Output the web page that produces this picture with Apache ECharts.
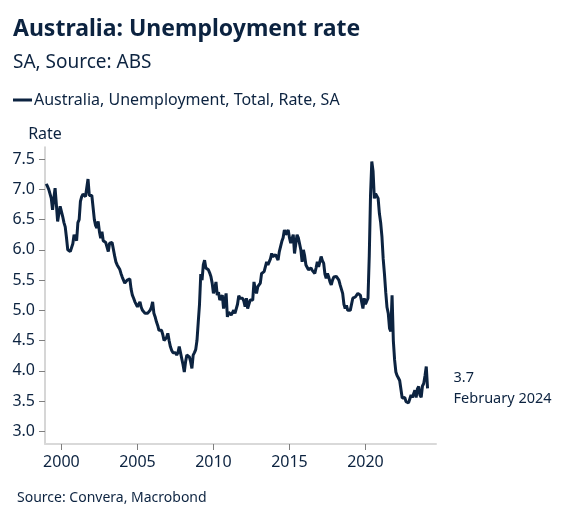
<!DOCTYPE html>
<html>
<head>
<meta charset="utf-8">
<script src="https://cdn.jsdelivr.net/npm/echarts@6/dist/echarts.min.js"></script>
<style>
  html, body { margin: 0; padding: 0; background: #fff; }
  #chart { width: 566px; height: 521px; }
</style>
</head>
<body>
<div id="chart"></div>
<script>
// 数据：月度失业率，从 1999 年 1 月开始
var startYear = 1999;
var rates = [
    7.09, 7.05, 7.0, 7.0, 6.85, 6.66, 6.85, 7.02, 6.75, 6.47, 6.6, 6.72,   // 1999
    6.74, 6.55, 6.45, 6.38, 6.2, 6.0, 5.97, 5.97, 5.97, 6.1, 6.25, 6.2,     // 2000
    6.15, 6.45, 6.5, 6.8, 6.88, 6.92, 6.9, 6.88, 6.9, 7.17, 6.9, 6.9,       // 2001
    6.9, 6.7, 6.5, 6.4, 6.36, 6.47, 6.3, 6.19, 6.3, 6.15, 6.15, 6.12,       // 2002
    6.1, 5.97, 6.11, 6.1, 6.12, 6.14, 5.9, 5.8, 5.75, 5.72, 5.68, 5.61,     // 2003
    5.55, 5.52, 5.45, 5.42, 5.5, 5.52, 5.52, 5.35, 5.25, 5.2, 5.14, 5.14,   // 2004
    5.06, 5.1, 5.14, 5.05, 5.0, 5.0, 4.95, 4.92, 4.95, 4.97, 5.0, 5.05,     // 2005
    5.14, 4.95, 4.89, 4.81, 4.75, 4.67, 4.7, 4.67, 4.6, 4.5, 4.48, 4.55,    // 2006
    4.62, 4.5, 4.4, 4.34, 4.3, 4.28, 4.3, 4.26, 4.3, 4.4, 4.3, 4.2,         // 2007
    4.1, 3.98, 4.15, 4.26, 4.25, 4.23, 4.15, 4.04, 4.26, 4.3, 4.35, 4.5,    // 2008
    4.8, 5.1, 5.6, 5.5, 5.75, 5.83, 5.7, 5.68, 5.67, 5.62, 5.56, 5.45,      // 2009
    5.28, 5.35, 5.47, 5.25, 5.3, 5.17, 5.2, 5.25, 5.03, 5.15, 5.28, 4.89,   // 2010
    4.97, 4.95, 4.92, 4.95, 5.0, 4.95, 4.92, 5.1, 5.24, 5.2, 5.2, 5.2,      // 2011
    5.15, 5.06, 5.2, 5.03, 5.1, 5.17, 5.15, 5.17, 5.47, 5.35, 5.28, 5.39,   // 2012
    5.39, 5.45, 5.61, 5.6, 5.64, 5.67, 5.8, 5.75, 5.75, 5.85, 5.94, 5.89,   // 2013
    5.89, 5.92, 5.9, 5.83, 5.97, 6.0, 6.14, 6.2, 6.33, 6.25, 6.22, 6.33,    // 2014
    6.2, 6.11, 6.18, 6.25, 5.94, 6.1, 6.25, 6.2, 6.17, 6.0, 5.8, 6.0,       // 2015
    5.9, 5.75, 5.72, 5.67, 5.7, 5.7, 5.66, 5.64, 5.61, 5.7, 5.8, 5.72,      // 2016
    5.8, 5.89, 5.82, 5.78, 5.6, 5.53, 5.61, 5.55, 5.47, 5.42, 5.5, 5.55,    // 2017
    5.58, 5.56, 5.53, 5.5, 5.42, 5.35, 5.28, 5.1, 5.03, 5.08, 5.0, 5.02,    // 2018
    5.0, 5.0, 5.2, 5.2, 5.22, 5.25, 5.28, 5.28, 5.25, 5.22, 5.03, 5.2,      // 2019
    5.1, 5.15, 5.2, 5.9, 6.9, 7.46, 7.3, 6.85, 6.93, 6.9, 6.85, 6.6,        // 2020
    6.45, 6.22, 5.85, 5.6, 5.3, 5.05, 4.95, 4.7, 4.65, 5.25, 4.5, 4.18,     // 2021
    3.98, 3.92, 3.88, 3.84, 3.86, 3.55, 3.54, 3.56, 3.49, 3.5, 3.47, 3.5,   // 2022
    3.6, 3.56, 3.58, 3.68, 3.56, 3.7, 3.74, 3.6, 3.56, 3.75, 3.79, 3.92,    // 2023
    4.07, 3.71                                                              // 2024
];
var monthNames = ['January', 'February', 'March', 'April', 'May', 'June',
    'July', 'August', 'September', 'October', 'November', 'December'];
var xTicks = [2000, 2005, 2010, 2015, 2020];
var yTicks = [3.0, 3.5, 4.0, 4.5, 5.0, 5.5, 6.0, 6.5, 7.0, 7.5];

var navy = '#0c2340';
var fontFam = '"Noto Sans", "Open Sans", sans-serif';

var seriesData = rates.map(function (v, i) {
    return [startYear + i / 12, v];
});
var lastIdx = rates.length - 1;
var lastLabel = rates[lastIdx].toFixed(1) + '\n' +
    monthNames[lastIdx % 12] + ' ' + (startYear + Math.floor(lastIdx / 12));

var myChart = echarts.init(document.getElementById('chart'));
myChart.setOption({
    animation: false,
    textStyle: { fontFamily: fontFam, color: navy },
    title: [
        {
            text: 'Australia: Unemployment rate',
            left: 8, top: 13,
            textStyle: { fontSize: 23, fontWeight: 'bold', color: navy, fontFamily: fontFam }
        },
        {
            text: 'SA, Source: ABS',
            left: 8, top: 48,
            textStyle: { fontSize: 19, fontWeight: 'normal', color: navy, fontFamily: fontFam }
        },
        {
            text: 'Source: Convera, Macrobond',
            left: 12, top: 486,
            textStyle: { fontSize: 14, fontWeight: 'normal', color: navy, fontFamily: fontFam }
        }
    ],
    legend: {
        left: 8, top: 87,
        icon: 'rect',
        itemWidth: 19, itemHeight: 3,
        itemGap: 10,
        textStyle: { fontSize: 16, color: navy, padding: [0, 0, 0, -3] },
        data: ['Australia, Unemployment, Total, Rate, SA']
    },
    grid: { left: 45, right: 130, top: 147, bottom: 77, containLabel: false },
    xAxis: {
        type: 'value',
        min: 1998.92,
        max: 2024.64,
        axisLine: { show: true, lineStyle: { color: '#d9d9d9', width: 2 } },
        axisTick: { show: true, length: 6, lineStyle: { color: '#7f7f7f' }, customValues: xTicks },
        axisLabel: { fontSize: 16, color: navy, margin: 10, customValues: xTicks,
            formatter: function (v) { return String(Math.round(v)); } },
        splitLine: { show: false }
    },
    yAxis: {
        type: 'value',
        min: 2.79,
        max: 7.7,
        name: 'Rate',
        nameLocation: 'end',
        nameGap: 5,
        nameTextStyle: { fontSize: 16, color: navy },
        axisLine: { show: true, lineStyle: { color: '#c8c8c8', width: 1.5 } },
        axisTick: { show: true, length: 6, lineStyle: { color: '#7f7f7f' }, customValues: yTicks },
        axisLabel: { fontSize: 16, color: navy, margin: 10, customValues: yTicks,
            formatter: function (v) { return v.toFixed(1); } },
        splitLine: { show: false }
    },
    series: [
        {
            name: 'Australia, Unemployment, Total, Rate, SA',
            type: 'line',
            data: seriesData,
            showSymbol: false,
            color: navy,
            lineStyle: { width: 3, color: navy },
            endLabel: {
                show: true,
                distance: 26,
                formatter: function () { return lastLabel; },
                fontSize: 14.5,
                lineHeight: 21,
                color: navy,
                fontFamily: fontFam
            }
        }
    ]
});
</script>
</body>
</html>
